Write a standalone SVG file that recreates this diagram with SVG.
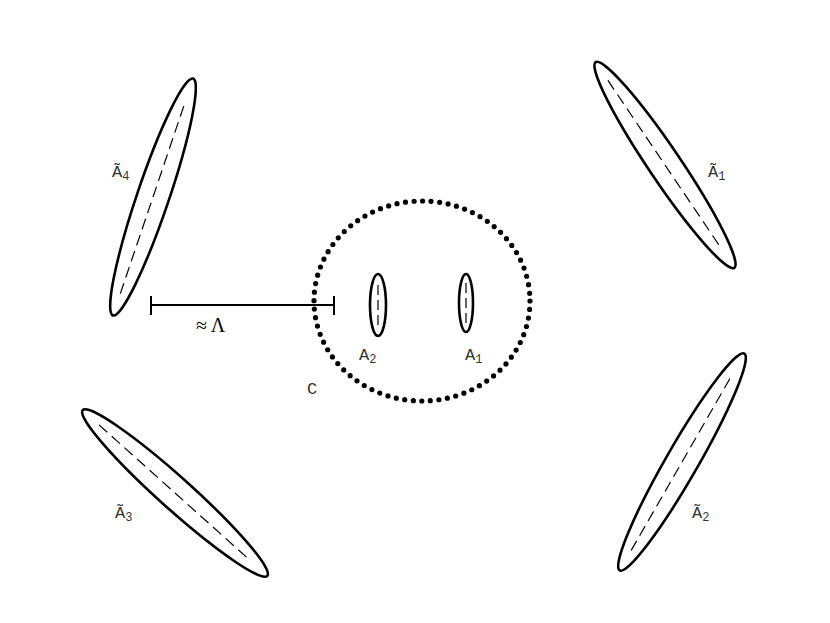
<svg xmlns="http://www.w3.org/2000/svg" width="830" height="623" viewBox="0 0 830 623">
<style>
.el{fill:none;stroke:#000;stroke-width:2.6}
.ax{fill:none;stroke:#000;stroke-width:1.2;stroke-dasharray:11 6}
.lb{font-family:"Liberation Mono","DejaVu Sans Mono",monospace;font-size:17px;fill:#333}
.sb{font-size:12px}
</style>
<rect width="830" height="623" fill="#fff"/>
<g id="At4" transform="translate(153,197) rotate(-71.3)">
<ellipse class="el" cx="0" cy="0" rx="125" ry="16"/>
<line class="ax" x1="-102" y1="0" x2="102" y2="0"/>
</g>
<g id="At1" transform="translate(665,165) rotate(56)">
<ellipse class="el" cx="0" cy="0" rx="124" ry="16"/>
<line class="ax" x1="-102" y1="0" x2="102" y2="0"/>
</g>
<g id="At3" transform="translate(175,493) rotate(41.9)">
<ellipse class="el" cx="0" cy="0" rx="124" ry="16"/>
<line class="ax" x1="-102" y1="0" x2="102" y2="0"/>
</g>
<g id="At2" transform="translate(682,462) rotate(-60.1)">
<ellipse class="el" cx="0" cy="0" rx="125" ry="16"/>
<line class="ax" x1="-102" y1="0" x2="102" y2="0"/>
</g>
<g id="A2">
<ellipse class="el" cx="378" cy="305" rx="8" ry="31"/>
<line class="ax" x1="378" y1="285" x2="378" y2="325" style="stroke-dasharray:10 5"/>
</g>
<g id="A1">
<ellipse class="el" cx="466" cy="303" rx="7" ry="29"/>
<line class="ax" x1="466" y1="283" x2="466" y2="323" style="stroke-dasharray:10 5"/>
</g>
<g id="C">
<ellipse cx="422" cy="301" rx="108" ry="100" fill="none" stroke="#000" stroke-width="5.2" stroke-linecap="round" stroke-dasharray="0 8.6"/>
</g>
<g id="connectors">
<line x1="151" y1="305" x2="334" y2="305" stroke="#000" stroke-width="2"/>
<line x1="151" y1="296" x2="151" y2="315" stroke="#000" stroke-width="2"/>
<line x1="334" y1="296" x2="334" y2="315" stroke="#000" stroke-width="2"/>
</g>
<g id="labels">
<text x="196" y="332" font-family="Liberation Serif,serif" font-size="20" fill="#000">≈ Λ</text>
<text class="lb" x="112" y="177">Ã<tspan class="sb" dy="3">4</tspan></text>
<text class="lb" x="708" y="177">Ã<tspan class="sb" dy="3">1</tspan></text>
<text class="lb" x="115" y="518">Ã<tspan class="sb" dy="3">3</tspan></text>
<text class="lb" x="692" y="518">Ã<tspan class="sb" dy="3">2</tspan></text>
<text class="lb" x="359" y="360">A<tspan class="sb" dy="3">2</tspan></text>
<text class="lb" x="465" y="360">A<tspan class="sb" dy="3">1</tspan></text>
<text class="lb" x="307" y="394">C</text>
</g>
</svg>
